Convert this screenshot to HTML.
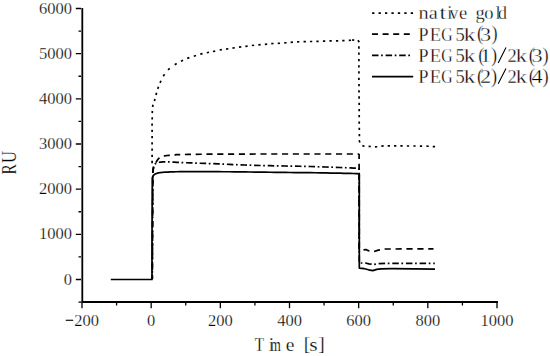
<!DOCTYPE html>
<html><head><meta charset="utf-8"><style>
html,body{margin:0;padding:0;background:#fff;}
body{width:550px;height:356px;overflow:hidden;}
svg{display:block;}
text{font-family:"Liberation Serif",serif;fill:#000;stroke:#fff;stroke-width:0.2px;}
.tk{font-size:16.5px;stroke-width:0.25px;}
.ax{font-size:19.5px;stroke-width:0.25px;}
.lg{font-size:18.5px;stroke-width:0.3px;}
.c{fill:none;stroke:#000;stroke-width:1.7;stroke-linejoin:round;}
.dot{stroke-dasharray:2.3 4.14;}
.dashp{stroke-dasharray:6.1 4.7;}
.ddp{stroke-dasharray:6.54 2.62 1.71 2.82;}
.dash{stroke-dasharray:6 4.6;}
.dd{stroke-dasharray:6.5 2.6 1.7 2.8;}
</style></head><body>
<svg width="550" height="356" viewBox="0 0 550 356">
<path d="M82.3 8 V302.9" stroke="#000" stroke-width="1.8" fill="none"/>
<path d="M81.4 302 H498" stroke="#000" stroke-width="1.8" fill="none"/>
<path d="M78.5 302.08 H81 M75.8 279.5 H81 M78.5 256.92 H81 M75.8 234.33 H81 M78.5 211.75 H81 M75.8 189.17 H81 M78.5 166.58 H81 M75.8 144 H81 M78.5 121.42 H81 M75.8 98.83 H81 M78.5 76.25 H81 M75.8 53.67 H81 M78.5 31.08 H81 M75.8 8.5 H81 M82 303 V308.2 M116.58 303 V305.6 M151.17 303 V308.2 M185.75 303 V305.6 M220.33 303 V308.2 M254.92 303 V305.6 M289.5 303 V308.2 M324.08 303 V305.6 M358.67 303 V308.2 M393.25 303 V305.6 M427.83 303 V308.2 M462.42 303 V305.6 M497 303 V308.2" stroke="#000" stroke-width="1.3" fill="none"/>
<path d="M152.1 163.15L152.1 160.85M152.1 156.95L152.1 154.65M152.1 150.85L152.1 148.55M152.1 144.45L152.1 142.15M152.1 138.25L152.1 135.95M152.1 132.05L152.1 129.75M152.09 125.75L152.11 123.45M152.18 119.55L152.22 117.25M152.24 113.15L152.36 110.85M152.57 107.03L153.03 104.77M154.38 101.1L155.02 98.9M155.99 94.91L156.61 92.69M157.72 88.89L158.48 86.71M160.02 82.84L160.98 80.76M163.26 76.26L164.54 74.34M168.07 69.99L169.73 68.41M174.73 64.72L176.67 63.48M180.96 61.3L183.04 60.3M187.22 58.41L189.38 57.59M193.8 56.24L196 55.56M200.29 54.19L202.51 53.61M206.77 52.73L209.03 52.27M212.97 51.54L215.23 51.06M219.67 50.01L221.93 49.59M226.06 49.07L228.34 48.73M232.46 48.07L234.74 47.73M238.96 47.15L241.24 46.85M245.36 46.34L247.64 46.06M251.86 45.53L254.14 45.27M258.35 44.81L260.65 44.59M264.85 44.3L267.15 44.1M271.25 43.68L273.55 43.52M277.75 43.37L280.05 43.23M284.25 42.94L286.55 42.76M290.65 42.39L292.95 42.21M297.05 41.86L299.35 41.74M303.55 41.63L305.85 41.57M309.95 41.52L312.25 41.48M316.35 41.44L318.65 41.36M322.95 41.14L325.25 41.06M329.45 40.92L331.75 40.88M335.95 40.93L338.25 40.87M342.25 40.65L344.55 40.55M348.75 40.36L351.05 40.24M351.96 39.98L354.24 40.22M357.89 40.29L359.31 42.11M358.87 46.35L358.93 48.65M358.9 52.45L358.9 54.75M358.9 58.95L358.9 61.25M358.9 65.25L358.9 67.55M358.9 71.25L358.9 73.55M358.89 77.65L358.91 79.95M358.99 83.95L359.01 86.25M358.99 90.25L359.01 92.55M359.08 96.35L359.12 98.65M359.19 102.65L359.21 104.95M359.2 109.05L359.2 111.35M359.2 115.05L359.2 117.35M359.19 121.45L359.21 123.75M359.28 127.75L359.32 130.05M359.38 134.05L359.42 136.35M359.1 140.32L359.9 142.48M362.37 145.39L364.43 146.41M368.55 146.32L370.85 146.48M374.95 146.84L377.25 146.76M381.35 146.08L383.65 145.92M387.65 145.91L389.95 145.89M394.05 145.9L396.35 145.9M400.35 145.89L402.65 145.91M406.85 145.99L409.15 146.01M413.35 145.98L415.65 146.02M419.85 146.18L422.15 146.22M426.45 146.16L428.75 146.24M432.75 146.53L435.05 146.67" class="c"/>
<path id="d1" d="M152.3 279 L152.8 172.3 L152.88 171.85 L153 171.22 L153.13 170.48 L153.28 169.69 L153.44 168.94 L153.6 168.3 L153.76 167.78 L153.92 167.32 L154.09 166.89 L154.27 166.47 L154.47 166.02 L154.7 165.5 L154.96 164.9 L155.24 164.24 L155.54 163.56 L155.86 162.87 L156.18 162.2 L156.5 161.6 L156.82 161.04 L157.13 160.51 L157.46 160.01 L157.79 159.54 L158.14 159.1 L158.5 158.7 L158.88 158.34 L159.27 158.02 L159.68 157.73 L160.1 157.47 L160.54 157.23 L161 157 L161.46 156.79 L161.91 156.6 L162.39 156.44 L162.9 156.29 L163.46 156.14 L164.1 156 L164.82 155.86 L165.61 155.73 L166.46 155.61 L167.35 155.5 L168.27 155.4 L169.2 155.3 L170.18 155.21 L171.22 155.14 L172.29 155.08 L173.35 155.01 L174.36 154.96 L175.3 154.9 L175.75 154.85 L175.67 154.8 L175.54 154.76 L175.86 154.71 L177.12 154.66 L179.8 154.6 L183.71 154.52 L188.41 154.43 L194.06 154.34 L200.77 154.24 L208.71 154.16 L218 154.1 L229.41 154.06 L242.98 154.03 L257.76 154.02 L272.82 154.01 L287.22 154.01 L300 154 L311.73 153.99 L323.26 153.99 L334.12 153.99 L343.85 154 L351.97 154 L358 154 L359.1 154.5 L359.1 200" class="c" stroke-dasharray="6.110 4.685" stroke-dashoffset="1.91"/>
<path id="d2" d="M359.1 200 L359.1 249.9 L363.2 249.9 L366 249.6 L368.3 250.7 L373.3 251.8 L378.4 250.1 L384.6 249 L433.5 248.9" class="c" stroke-dasharray="6.178 4.736" stroke-dashoffset="0.23"/>
<path id="dd1" d="M152.3 279 L153 168.3 L153.1 168 L153.24 167.57 L153.41 167.07 L153.59 166.54 L153.79 166.03 L154 165.6 L154.22 165.23 L154.44 164.87 L154.69 164.54 L154.94 164.24 L155.22 163.96 L155.5 163.7 L155.8 163.48 L156.11 163.28 L156.44 163.11 L156.78 162.96 L157.13 162.83 L157.5 162.7 L157.86 162.59 L158.2 162.49 L158.56 162.41 L158.96 162.34 L159.43 162.27 L160 162.2 L160.69 162.12 L161.48 162.04 L162.34 161.96 L163.24 161.89 L164.14 161.84 L165 161.8 L165.78 161.78 L166.48 161.78 L167.19 161.79 L167.96 161.81 L168.88 161.85 L170 161.9 L171.05 161.96 L171.93 162.03 L172.94 162.12 L174.41 162.22 L176.66 162.35 L180 162.5 L184.78 162.69 L190.81 162.91 L197.62 163.16 L204.74 163.41 L211.69 163.66 L218 163.9 L223.7 164.13 L229.19 164.36 L234.5 164.59 L239.7 164.81 L244.85 165.02 L250 165.2 L255.12 165.35 L260.15 165.48 L265.12 165.59 L270.07 165.7 L275.02 165.8 L280 165.9 L285 166 L290 166.09 L295 166.18 L300 166.27 L305 166.38 L310 166.5 L315.14 166.65 L320.46 166.81 L325.78 166.99 L330.93 167.17 L335.72 167.34 L340 167.5 L343.84 167.65 L347.41 167.81 L350.62 167.96 L353.43 168.1 L355.74 168.22 L357.5 168.3 L359.2 169.3 L359.25 215" class="c" stroke-dasharray="6.510 2.604 1.703 2.804" stroke-dashoffset="2.92"/>
<path id="dd2" d="M359.25 215 L359.3 263 L365.5 263 L368.9 263.8 L373.9 264.5 L379 263.6 L385.7 263.3 L434.8 263.4" class="c" stroke-dasharray="6.526 2.610 1.707 2.811" stroke-dashoffset="0.71"/>
<path id="s" d="M110.8 279.5 L152 279.5 L152 240 L152.3 177.8 L152.38 177.59 L152.49 177.29 L152.61 176.94 L152.76 176.57 L152.92 176.22 L153.1 175.9 L153.29 175.62 L153.5 175.35 L153.72 175.09 L153.97 174.84 L154.22 174.61 L154.5 174.4 L154.8 174.21 L155.13 174.04 L155.47 173.89 L155.82 173.76 L156.17 173.63 L156.5 173.5 L156.8 173.38 L157.08 173.27 L157.35 173.18 L157.64 173.08 L157.99 172.99 L158.4 172.9 L158.89 172.81 L159.43 172.72 L160.01 172.63 L160.64 172.55 L161.31 172.47 L162 172.4 L162.65 172.34 L163.23 172.29 L163.86 172.24 L164.61 172.2 L165.59 172.15 L166.9 172.1 L168.32 172.03 L169.74 171.96 L171.38 171.88 L173.49 171.81 L176.28 171.74 L180 171.7 L184.96 171.67 L191.04 171.66 L197.82 171.66 L204.86 171.66 L211.73 171.68 L218 171.7 L223.7 171.73 L229.19 171.77 L234.5 171.82 L239.7 171.88 L244.85 171.94 L250 172 L255.12 172.06 L260.15 172.13 L265.12 172.2 L270.07 172.27 L275.02 172.34 L280 172.4 L285 172.45 L290 172.5 L295 172.54 L300 172.59 L305 172.64 L310 172.7 L315.14 172.77 L320.46 172.86 L325.78 172.94 L330.93 173.03 L335.72 173.12 L340 173.2 L343.84 173.28 L347.41 173.36 L350.62 173.43 L353.43 173.5 L355.74 173.56 L357.5 173.6 L359.3 174.3 L359.3 268.1 L364.4 268.7 L368.5 269.8 L372.8 270.6 L376.7 269.4 L381 268.8 L392 268.7 L435 269.1" class="c"/>
<text x="71.9" y="284.6" text-anchor="end" class="tk">0</text>
<text x="71.9" y="239.43" text-anchor="end" class="tk">1000</text>
<text x="71.9" y="194.27" text-anchor="end" class="tk">2000</text>
<text x="71.9" y="149.1" text-anchor="end" class="tk">3000</text>
<text x="71.9" y="103.93" text-anchor="end" class="tk">4000</text>
<text x="71.9" y="58.77" text-anchor="end" class="tk">5000</text>
<text x="71.9" y="13.6" text-anchor="end" class="tk">6000</text>
<text x="82" y="325.7" text-anchor="middle" class="tk">−200</text>
<text x="151.17" y="325.7" text-anchor="middle" class="tk">0</text>
<text x="220.33" y="325.7" text-anchor="middle" class="tk">200</text>
<text x="289.5" y="325.7" text-anchor="middle" class="tk">400</text>
<text x="358.67" y="325.7" text-anchor="middle" class="tk">600</text>
<text x="427.83" y="325.7" text-anchor="middle" class="tk">800</text>
<text x="497" y="325.7" text-anchor="middle" class="tk">1000</text>
<rect x="65.8" y="319.7" width="7.2" height="1.1" fill="#111"/>
<text transform="translate(15.6 169.3) rotate(-90) scale(0.78 1)" text-anchor="middle" class="ax" style="font-size:20px">R</text>
<text transform="translate(15.6 156.9) rotate(-90) scale(0.84 1)" text-anchor="middle" class="ax" style="font-size:20px">U</text>
<text transform="translate(259.5 351.3) scale(0.78 1)" text-anchor="middle" class="ax">T</text>
<text x="271.4" y="351.3" text-anchor="middle" class="ax">i</text>
<text transform="translate(275.5 351.3) scale(0.7 1)" text-anchor="middle" class="ax">m</text>
<text x="290.2" y="351.3" text-anchor="middle" class="ax">e</text>
<text x="307" y="349.9" text-anchor="middle" class="ax">[</text>
<text x="321.6" y="349.9" text-anchor="middle" class="ax">]</text>
<text transform="translate(313.4 351.4) scale(1.1 1)" text-anchor="middle" class="ax">s</text>
<path d="M372.1 13.1 H414.6" class="c dot"/>
<path d="M372 34.2 H411" class="c dash"/>
<path d="M372 55.4 H411" class="c dd"/>
<path d="M372 76.7 H413.2" class="c"/>
<path d="M498.2 63 L506 47.6 M498.2 83.8 L506 68.4" stroke="#000" stroke-width="1.1" fill="none"/>
<text transform="translate(423.6 19.3) scale(1.1 1)" text-anchor="middle" class="lg">n</text>
<text transform="translate(433.2 19.3) scale(1.1 1)" text-anchor="middle" class="lg">a</text>
<text transform="translate(442.8 19.3) scale(1.3 1)" text-anchor="middle" class="lg">t</text>
<text x="449.8" y="19.3" text-anchor="middle" class="lg">i</text>
<text x="453.9" y="19.3" text-anchor="middle" class="lg">v</text>
<text x="463.2" y="19.3" text-anchor="middle" class="lg">e</text>
<text x="480" y="19.3" text-anchor="middle" class="lg">g</text>
<text x="488.8" y="19.3" text-anchor="middle" class="lg">o</text>
<text x="498" y="19.3" text-anchor="middle" class="lg">l</text>
<text x="502.4" y="19.3" text-anchor="middle" class="lg">d</text>
<text x="423.5" y="40.8" text-anchor="middle" class="lg">P</text>
<text x="435.5" y="40.8" text-anchor="middle" class="lg">E</text>
<text transform="translate(446.8 40.8) scale(0.85 1)" text-anchor="middle" class="lg">G</text>
<text x="460.2" y="40.8" text-anchor="middle" class="lg">5</text>
<text transform="translate(469.5 40.8) scale(1.25 1)" text-anchor="middle" class="lg">k</text>
<text transform="translate(480 40.4) scale(1.0 1.1)" text-anchor="middle" class="lg">(</text>
<text transform="translate(485.5 40.8) scale(1.2 1)" text-anchor="middle" class="lg">3</text>
<text transform="translate(494.5 40.4) scale(1.0 1.1)" text-anchor="middle" class="lg">)</text>
<text x="423.5" y="62.1" text-anchor="middle" class="lg">P</text>
<text x="435.5" y="62.1" text-anchor="middle" class="lg">E</text>
<text transform="translate(446.8 62.1) scale(0.85 1)" text-anchor="middle" class="lg">G</text>
<text x="460.2" y="62.1" text-anchor="middle" class="lg">5</text>
<text transform="translate(469.5 62.1) scale(1.25 1)" text-anchor="middle" class="lg">k</text>
<text transform="translate(481.4 61.7) scale(1.0 1.1)" text-anchor="middle" class="lg">(</text>
<text transform="translate(485.6 62.1) scale(1.2 1)" text-anchor="middle" class="lg">1</text>
<text transform="translate(494 61.7) scale(1.0 1.1)" text-anchor="middle" class="lg">)</text>
<text x="512.2" y="62.1" text-anchor="middle" class="lg">2</text>
<text transform="translate(521.2 62.1) scale(1.2 1)" text-anchor="middle" class="lg">k</text>
<text transform="translate(531.8 61.7) scale(1.0 1.1)" text-anchor="middle" class="lg">(</text>
<text transform="translate(537.1 62.1) scale(1.2 1)" text-anchor="middle" class="lg">3</text>
<text transform="translate(545.5 61.7) scale(1.0 1.1)" text-anchor="middle" class="lg">)</text>
<text x="423.5" y="82.9" text-anchor="middle" class="lg">P</text>
<text x="435.5" y="82.9" text-anchor="middle" class="lg">E</text>
<text transform="translate(446.8 82.9) scale(0.85 1)" text-anchor="middle" class="lg">G</text>
<text x="460.2" y="82.9" text-anchor="middle" class="lg">5</text>
<text transform="translate(469.5 82.9) scale(1.25 1)" text-anchor="middle" class="lg">k</text>
<text transform="translate(480.2 82.5) scale(1.0 1.1)" text-anchor="middle" class="lg">(</text>
<text transform="translate(485.5 82.9) scale(1.2 1)" text-anchor="middle" class="lg">2</text>
<text transform="translate(494.1 82.5) scale(1.0 1.1)" text-anchor="middle" class="lg">)</text>
<text x="512.2" y="82.9" text-anchor="middle" class="lg">2</text>
<text transform="translate(521.2 82.9) scale(1.2 1)" text-anchor="middle" class="lg">k</text>
<text transform="translate(531.8 82.5) scale(1.0 1.1)" text-anchor="middle" class="lg">(</text>
<text transform="translate(537.1 82.9) scale(1.2 1)" text-anchor="middle" class="lg">4</text>
<text transform="translate(545.5 82.5) scale(1.0 1.1)" text-anchor="middle" class="lg">)</text>
</svg>
</body></html>
